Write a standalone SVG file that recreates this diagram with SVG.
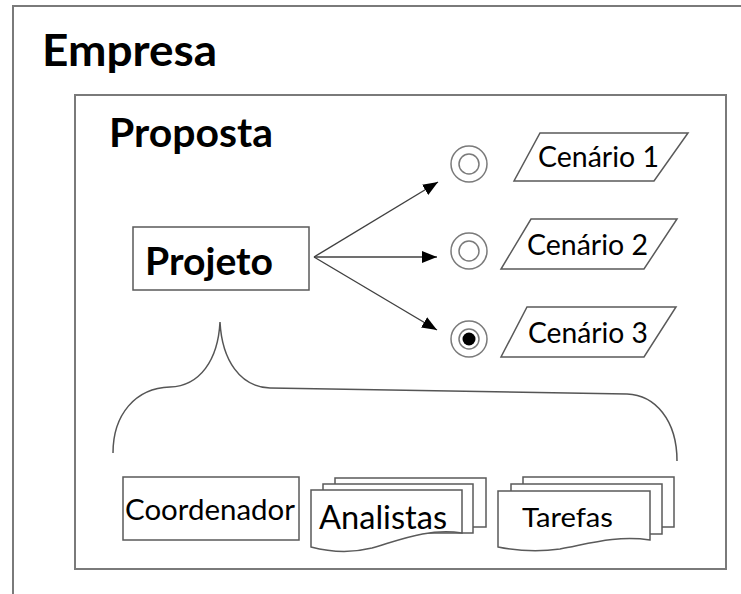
<svg xmlns="http://www.w3.org/2000/svg" width="741" height="594" viewBox="0 0 741 594">
<defs>
<style>
.frame{fill:none;stroke:#7a7a7a;stroke-width:2}
.shape{fill:#fff;stroke:#5a5a5a;stroke-width:1.5}
.ring{fill:none;stroke:#7a7a7a;stroke-width:1.5}
.conn{fill:none;stroke:#404040;stroke-width:1.4}
.brace{fill:none;stroke:#555;stroke-width:1.5}
.t{font-family:Lato,"Liberation Sans",sans-serif;fill:#000}
.b{font-weight:bold}
</style>
<marker id="ah" viewBox="0 0 15 12" refX="15" refY="6" markerWidth="15" markerHeight="12" markerUnits="userSpaceOnUse" orient="auto">
<path d="M0,0 L15,6 L0,12 Z" fill="#000"/>
</marker>
</defs>
<rect width="741" height="594" fill="#fff"/>

<g id="empresa">
<path class="frame" d="M13,600 V6 H745"/>
<text class="t b" x="42" y="66" font-size="44" textLength="175" lengthAdjust="spacingAndGlyphs">Empresa</text>
</g>

<g id="proposta">
<rect class="frame" x="75" y="95" width="651" height="474"/>
<text class="t b" x="109" y="147" font-size="40" textLength="164" lengthAdjust="spacingAndGlyphs">Proposta</text>
</g>

<g id="projeto">
<rect class="shape" x="133" y="227" width="176" height="63"/>
<text class="t b" x="145" y="275" font-size="38" textLength="128" lengthAdjust="spacingAndGlyphs">Projeto</text>
</g>

<g id="connectors">
<line class="conn" x1="314" y1="257" x2="438" y2="182" marker-end="url(#ah)"/>
<line class="conn" x1="314" y1="257" x2="437" y2="257" marker-end="url(#ah)"/>
<line class="conn" x1="314" y1="257" x2="437" y2="330" marker-end="url(#ah)"/>
<path class="brace" d="M113,453 C113,415 135,388 170,387 C200,386 218,360 220,322 C222,360 240,387 270,388 L627,394 C655,395 677,420 677,461"/>
</g>

<g id="estado1">
<circle class="ring" cx="469" cy="164" r="18"/>
<circle class="ring" cx="469" cy="164" r="10"/>
</g>
<g id="estado2">
<circle class="ring" cx="469" cy="251" r="18"/>
<circle class="ring" cx="469" cy="251" r="10"/>
</g>
<g id="estado3">
<circle class="ring" cx="469" cy="339" r="18"/>
<circle class="ring" cx="469" cy="339" r="10"/>
<circle cx="469" cy="339" r="6.5" fill="#000"/>
</g>

<g id="cenario1">
<polygon class="shape" points="540,133 688,133 654,181 514,181"/>
<text class="t" x="538" y="167" font-size="29" textLength="121" lengthAdjust="spacingAndGlyphs">Cenário 1</text>
</g>
<g id="cenario2">
<polygon class="shape" points="531,219 677,219 644,269 501,269"/>
<text class="t" x="527" y="255" font-size="29" textLength="121" lengthAdjust="spacingAndGlyphs">Cenário 2</text>
</g>
<g id="cenario3">
<polygon class="shape" points="527,307 676,307 644,357 501,357"/>
<text class="t" x="528" y="343" font-size="29" textLength="120" lengthAdjust="spacingAndGlyphs">Cenário 3</text>
</g>

<g id="coordenador">
<rect class="shape" x="123" y="477" width="176" height="63"/>
<text class="t" x="125" y="520" font-size="29" textLength="170" lengthAdjust="spacingAndGlyphs">Coordenador</text>
</g>

<g id="analistas">
<rect class="shape" x="335" y="478" width="151" height="49"/>
<rect class="shape" x="323" y="484" width="150" height="49"/>
<path class="shape" d="M311,490 H462 V533 C428,528 400,540 372,548 C352,553 330,552 311,547 Z"/>
<text class="t" x="319" y="529" font-size="32" textLength="128" lengthAdjust="spacingAndGlyphs">Analistas</text>
</g>

<g id="tarefas">
<rect class="shape" x="523" y="477" width="151" height="50"/>
<rect class="shape" x="511" y="484" width="151" height="50"/>
<path class="shape" d="M498,491 H650 V540 C616,535 588,544 560,549 C540,552 518,551 498,547 Z"/>
<text class="t" x="522" y="527" font-size="27.5" textLength="91" lengthAdjust="spacingAndGlyphs">Tarefas</text>
</g>
</svg>
